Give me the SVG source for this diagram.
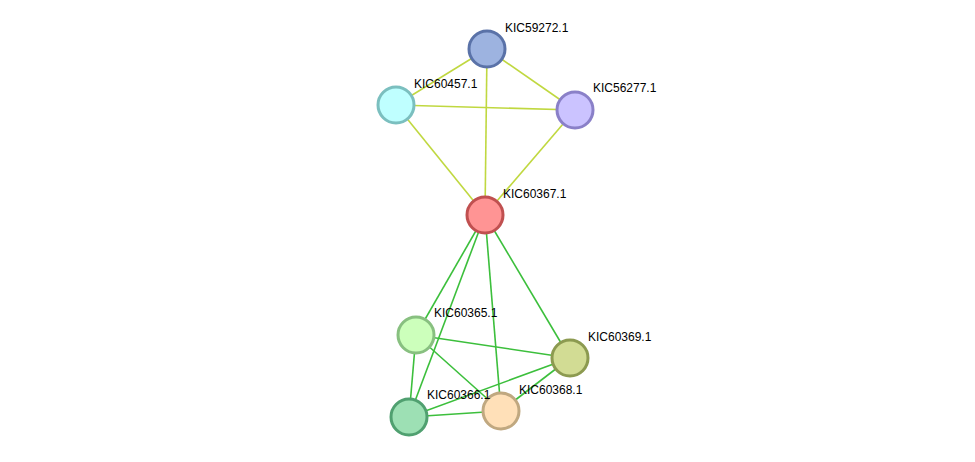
<svg xmlns="http://www.w3.org/2000/svg" width="975" height="462" viewBox="0 0 975 462">
<style>
.y{stroke:#c0d840;stroke-width:1.6}
.g{stroke:#3cbf3c;stroke-width:1.6}
circle{stroke-width:3}
text{font-family:"Liberation Sans",Arial,sans-serif;font-size:12px;fill:#000}
</style>
<rect width="975" height="462" fill="#fff"/>
<g id="edges">
<line class="y" x1="487" y1="49" x2="396" y2="105"/>
<line class="y" x1="487" y1="49" x2="575" y2="110"/>
<line class="y" x1="487" y1="49" x2="485" y2="215"/>
<line class="y" x1="396" y1="105" x2="575" y2="110"/>
<line class="y" x1="396" y1="105" x2="485" y2="215"/>
<line class="y" x1="575" y1="110" x2="485" y2="215"/>
<line class="g" x1="485" y1="215" x2="416" y2="335"/>
<line class="g" x1="485" y1="215" x2="409" y2="417"/>
<line class="g" x1="485" y1="215" x2="501" y2="411"/>
<line class="g" x1="485" y1="215" x2="570" y2="358"/>
<line class="g" x1="416" y1="335" x2="570" y2="358"/>
<line class="g" x1="416" y1="335" x2="409" y2="417"/>
<line class="g" x1="416" y1="335" x2="501" y2="411"/>
<line class="g" x1="409" y1="417" x2="570" y2="358"/>
<line class="g" x1="409" y1="417" x2="501" y2="411"/>
<line class="g" x1="501" y1="411" x2="570" y2="358"/>
</g>
<g id="KIC59272.1"><circle cx="487" cy="49" r="18" fill="#9db3e0" stroke="#5a72a8"/><text x="505" y="32">KIC59272.1</text></g>
<g id="KIC60457.1"><circle cx="396" cy="105" r="18" fill="#bfffff" stroke="#7bbfbf"/><text x="414" y="88">KIC60457.1</text></g>
<g id="KIC56277.1"><circle cx="575" cy="110" r="18" fill="#cbc3ff" stroke="#8a80c8"/><text x="593" y="92">KIC56277.1</text></g>
<g id="KIC60367.1"><circle cx="485" cy="215" r="18" fill="#ff9494" stroke="#c05050"/><text x="503" y="198">KIC60367.1</text></g>
<g id="KIC60365.1"><circle cx="416" cy="335" r="18" fill="#ccffbb" stroke="#88c080"/><text x="434" y="317">KIC60365.1</text></g>
<g id="KIC60369.1"><circle cx="570" cy="358" r="18" fill="#d2dc94" stroke="#8c9a50"/><text x="588" y="341">KIC60369.1</text></g>
<g id="KIC60368.1"><circle cx="501" cy="411" r="18" fill="#ffe0b8" stroke="#c0a880"/><text x="519" y="394">KIC60368.1</text></g>
<g id="KIC60366.1"><circle cx="409" cy="417" r="18" fill="#9de0b4" stroke="#50a070"/><text x="427" y="399">KIC60366.1</text></g>
</svg>
